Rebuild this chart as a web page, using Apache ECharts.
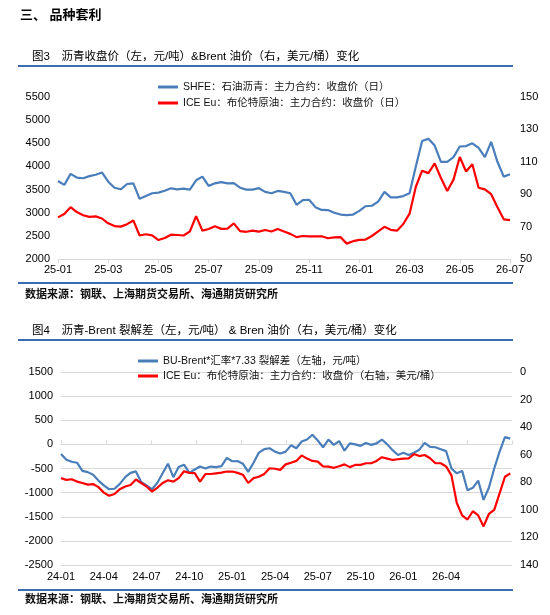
<!DOCTYPE html>
<html>
<head>
<meta charset="utf-8">
<script src="https://cdn.jsdelivr.net/npm/echarts@6/dist/echarts.min.js"></script>
<style>
  html, body { margin: 0; padding: 0; background: #fff; }
  #page { width: 550px; height: 615px; }
</style>
</head>
<body>
<div id="page"></div>
<script>
// 图3：x 轴每格两个月，每格 8 个采样点
const fig3Labels = ['25-01', '25-03', '25-05', '25-07', '25-09', '25-11', '26-01', '26-03', '26-05', '26-07']
const shfeClose = [
  3685, 3600, 3840, 3760, 3745, 3790, 3820, 3870, 3670, 3540,
  3506, 3620, 3635, 3300, 3360, 3420, 3433, 3476, 3527, 3506,
  3519, 3500, 3700, 3780, 3580, 3635, 3660, 3635, 3640, 3540,
  3500, 3500, 3530, 3450, 3420, 3470, 3450, 3420, 3170, 3270,
  3280, 3120, 3060, 3058, 3000, 2960, 2950, 2960, 3040, 3140,
  3150, 3240, 3450, 3330, 3330, 3360, 3420, 4000, 4550, 4600,
  4450, 4100, 4100, 4200, 4430, 4440, 4500, 4400, 4200, 4530,
  4100, 3780, 3830
]
const brentClose3 = [
  75.7, 77.8, 82.0, 79.0, 77.0, 76.0, 76.3, 75.0, 72.0, 70.3,
  70.0, 71.5, 73.8, 64.5, 65.3, 64.6, 61.7, 63.0, 65.0, 64.8,
  64.5, 67.0, 76.5, 67.5, 68.5, 70.2, 68.6, 68.8, 72.0, 67.2,
  66.8, 67.5, 66.9, 67.9, 67.0, 68.5, 67.0, 65.5, 63.5, 64.2,
  64.0, 64.0, 64.0, 62.8, 63.4, 63.5, 59.5, 61.0, 61.8, 62.0,
  64.2, 67.0, 69.9, 68.0, 67.5, 71.6, 78.0, 94.6, 104.5, 103.0,
  109.0, 100.0, 92.0, 99.0, 113.0, 104.0, 108.5, 94.0, 93.0, 90.0,
  82.0, 74.5, 74.0
]

// 图4：x 轴每格一个季度，每格 8 个采样点
const fig4Labels = ['24-01', '24-04', '24-07', '24-10', '25-01', '25-04', '25-07', '25-10', '26-01', '26-04']
const crackSpread = [
  -200, -320, -360, -380, -550, -575, -630, -750, -850, -930,
  -920, -820, -680, -590, -560, -780, -850, -930, -800, -600,
  -400, -680, -470, -420, -590, -520, -460, -500, -460, -470,
  -450, -280, -350, -345, -400, -570, -380, -170, -100, -80,
  -150, -190, -150, -20, -80, 60, 100, 200, 80, -60,
  100, -10, 69, -130, 20, 0, -30, 30, -10, 20,
  100, 0, -120, -220, -172, -220, -172, -110, 30, -50,
  -60, -100, -140, -500, -600, -550, -950, -900, -750, -1150,
  -900, -500, -150, 150, 120
]
const brentClose4 = [
  77.0, 78.3, 77.8, 79.5, 80.5, 81.7, 81.3, 83.5, 87.5, 89.8,
  88.5, 85.0, 83.1, 82.0, 78.0, 80.5, 83.1, 86.7, 84.0, 80.5,
  78.5, 79.5, 77.0, 72.0, 73.2, 73.4, 79.5, 74.0, 74.0, 73.5,
  73.0, 72.2, 72.2, 73.2, 74.5, 80.5, 77.0, 76.0, 74.0, 69.8,
  70.2, 71.0, 67.0, 65.8, 64.5, 60.5, 62.8, 64.5, 65.0, 68.5,
  68.6, 69.5, 68.4, 67.0, 69.0, 67.4, 67.4, 66.2, 66.2, 64.5,
  61.8, 62.8, 63.8, 63.3, 62.8, 62.6, 59.5, 61.0, 60.2, 62.6,
  66.2, 66.2, 68.5, 75.0, 95.0, 104.0, 107.0, 101.0, 104.0, 112.0,
  103.0, 100.0, 88.0, 76.0, 73.5
]

const STEP = 1 / 8
const FONT = "'Liberation Sans', 'Noto Sans CJK SC', sans-serif"
const BLUE = '#4a7ebb'
const RED = '#ff0000'
const RULE = '#3a6cb4'
const GRID_GRAY = '#d9d9d9'

const toPairs = (vals) => vals.map((v, i) => [i * STEP, v])
const noComma = (v) => String(v)

const chart = echarts.init(document.getElementById('page'))

const captionStyle = { fontSize: 11.5, fontWeight: 'normal', color: '#000', fontFamily: FONT }
const sourceStyle = { fontSize: 11, fontWeight: 'bold', color: '#111', fontFamily: FONT }
const labelStyle = { fontSize: 11, color: '#000', fontFamily: FONT }

// 一条横向分隔线
function rule (y) {
  return {
    type: 'line',
    shape: { x1: 18, y1: y, x2: 513, y2: y },
    style: { stroke: RULE, lineWidth: 2 }
  }
}

function legendAt (name, left, top, color) {
  return {
    data: [name],
    left: left,
    top: top,
    icon: 'rect',
    itemWidth: 20,
    itemHeight: 3,
    itemGap: 0,
    padding: 0,
    selectedMode: false,
    itemStyle: { color: color },
    textStyle: { fontSize: 10.5, color: '#111', fontFamily: FONT, lineHeight: 14 }
  }
}

const names = {
  shfe: 'SHFE：石油沥青：主力合约：收盘价（日）',
  brent3: 'ICE Eu：布伦特原油：主力合约：收盘价（日）',
  crack: 'BU-Brent*汇率*7.33 裂解差（左轴，元/吨）',
  brent4: 'ICE Eu：布伦特原油：主力合约：收盘价（右轴，美元/桶）'
}

const option = {
  animation: false,
  backgroundColor: '#fff',
  textStyle: { fontFamily: FONT },
  title: [
    { text: '三、 品种套利', left: 20, top: 9, padding: 0, textStyle: { fontSize: 13, fontWeight: 'bold', color: '#000', fontFamily: FONT } },
    { text: '图3　沥青收盘价（左，元/吨）&Brent 油价（右，美元/桶）变化', left: 32, top: 51, padding: 0, textStyle: captionStyle },
    { text: '数据来源：钢联、上海期货交易所、海通期货研究所', left: 25, top: 289, padding: 0, textStyle: sourceStyle },
    { text: '图4　沥青-Brent 裂解差（左，元/吨） & Bren 油价（右，美元/桶）变化', left: 32, top: 325, padding: 0, textStyle: captionStyle },
    { text: '数据来源：钢联、上海期货交易所、海通期货研究所', left: 25, top: 594, padding: 0, textStyle: sourceStyle }
  ],
  graphic: [rule(66), rule(283), rule(340), rule(590)],
  legend: [
    legendAt(names.shfe, 158, 80, BLUE),
    legendAt(names.brent3, 158, 96, RED),
    legendAt(names.crack, 138, 354, BLUE),
    legendAt(names.brent4, 138, 369, RED)
  ],
  grid: [
    { left: 58, right: 40, top: 97, bottom: 356 },
    { left: 61, right: 38, top: 372, bottom: 50 }
  ],
  xAxis: [
    {
      gridIndex: 0,
      type: 'value',
      min: 0,
      max: 9,
      interval: 1,
      axisLine: { show: true, lineStyle: { color: GRID_GRAY } },
      axisTick: { show: true, length: 4, lineStyle: { color: GRID_GRAY } },
      axisLabel: { ...labelStyle, margin: 5, formatter: (v) => fig3Labels[v] || '' },
      splitLine: { show: false }
    },
    {
      gridIndex: 1,
      type: 'value',
      position: 'bottom',
      min: 0,
      max: 10.54,
      interval: 1,
      axisLine: { show: false, onZero: false },
      axisTick: { show: false },
      axisLabel: { ...labelStyle, margin: 6, formatter: (v) => fig4Labels[v] || '' },
      splitLine: { show: false }
    },
    {
      // 0 轴上的刻度
      gridIndex: 1,
      type: 'value',
      position: 'bottom',
      min: 0,
      max: 10,
      interval: 1,
      axisLine: { show: true, onZero: true, lineStyle: { color: GRID_GRAY } },
      axisTick: { show: true, inside: true, length: 4, lineStyle: { color: GRID_GRAY } },
      axisLabel: { show: false },
      splitLine: { show: false }
    }
  ],
  yAxis: [
    {
      gridIndex: 0,
      type: 'value',
      min: 2000,
      max: 5500,
      interval: 500,
      axisLine: { show: false },
      axisTick: { show: false },
      splitLine: { show: false },
      axisLabel: { ...labelStyle, margin: 8, formatter: noComma }
    },
    {
      gridIndex: 0,
      type: 'value',
      position: 'right',
      min: 50,
      max: 150,
      interval: 20,
      axisLine: { show: false },
      axisTick: { show: false },
      splitLine: { show: false },
      axisLabel: { ...labelStyle, margin: 10, formatter: noComma }
    },
    {
      gridIndex: 1,
      type: 'value',
      min: -2500,
      max: 1500,
      interval: 500,
      axisLine: { show: false },
      axisTick: { show: false },
      splitLine: { show: true, lineStyle: { color: GRID_GRAY, width: 1 } },
      axisLabel: { ...labelStyle, margin: 8, formatter: noComma }
    },
    {
      gridIndex: 1,
      type: 'value',
      position: 'right',
      inverse: true,
      min: 0,
      max: 140,
      interval: 20,
      axisLine: { show: false },
      axisTick: { show: false },
      splitLine: { show: false },
      axisLabel: { ...labelStyle, margin: 8, formatter: noComma }
    }
  ],
  series: [
    {
      name: names.shfe,
      type: 'line',
      xAxisIndex: 0,
      yAxisIndex: 0,
      data: toPairs(shfeClose),
      symbol: 'none',
      lineStyle: { color: BLUE, width: 2.2 },
      itemStyle: { color: BLUE }
    },
    {
      name: names.brent3,
      type: 'line',
      xAxisIndex: 0,
      yAxisIndex: 1,
      data: toPairs(brentClose3),
      symbol: 'none',
      lineStyle: { color: RED, width: 2.2 },
      itemStyle: { color: RED }
    },
    {
      name: names.crack,
      type: 'line',
      xAxisIndex: 1,
      yAxisIndex: 2,
      data: toPairs(crackSpread),
      symbol: 'none',
      lineStyle: { color: BLUE, width: 2.2 },
      itemStyle: { color: BLUE }
    },
    {
      name: names.brent4,
      type: 'line',
      xAxisIndex: 1,
      yAxisIndex: 3,
      data: toPairs(brentClose4),
      symbol: 'none',
      lineStyle: { color: RED, width: 2.2 },
      itemStyle: { color: RED }
    }
  ]
}

chart.setOption(option)
</script>
</body>
</html>
